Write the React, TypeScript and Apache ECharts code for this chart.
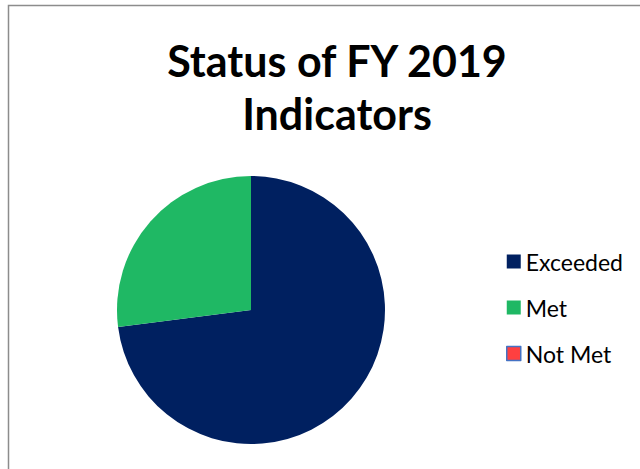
import React, { useEffect, useRef } from "react";
import * as echarts from "echarts";

const categories = ["Exceeded", "Met", "Not Met"];
const values = [27, 10, 0];
const colors = ["#002060", "#1fb864", "#ff4040"];
const titleLines = ["Status of FY 2019", "Indicators"];

export default function App() {
  const ref = useRef<HTMLDivElement>(null);
  useEffect(() => {
    const chart = echarts.init(ref.current!, null, { renderer: "svg" });
    const font = "Lato, 'Open Sans', sans-serif";
    chart.setOption({
      animation: false,
      backgroundColor: "#ffffff",
      title: {
        text: titleLines.join("\n"),
        left: 332,
        textAlign: "center",
        top: 29,
        textStyle: {
          fontFamily: font,
          fontWeight: "bold",
          fontSize: 43,
          lineHeight: 53,
          color: "#000000",
        },
      },
      legend: {
        orient: "vertical",
        left: 501,
        top: 245,
        itemWidth: 14,
        itemHeight: 14,
        itemGap: 23,
        icon: "rect",
        textStyle: { fontFamily: font, fontSize: 23, color: "#000000" },
        data: categories.map((c, i) =>
          i === 2
            ? { name: c, itemStyle: { color: colors[i], borderColor: "#4472c4", borderWidth: 1.5 } }
            : { name: c }
        ),
      },
      graphic: [
        {
          type: "rect",
          shape: { x: 8.5, y: 5.5, width: 800, height: 800 },
          style: { fill: "none", stroke: "#8c8c8c", lineWidth: 1.5 },
          silent: true,
        },
      ],
      series: [
        {
          type: "pie",
          center: [251, 310],
          radius: 134,
          startAngle: 90,
          clockwise: true,
          label: { show: false },
          labelLine: { show: false },
          emphasis: { disabled: true },
          itemStyle: { borderWidth: 0 },
          data: categories.map((c, i) => ({
            name: c,
            value: values[i],
            itemStyle: { color: colors[i] },
          })),
        },
      ],
    });
    return () => chart.dispose();
  }, []);
  return (
    <div
      ref={ref}
      style={{ position: "fixed", left: 0, top: 0, width: 640, height: 469 }}
    />
  );
}
